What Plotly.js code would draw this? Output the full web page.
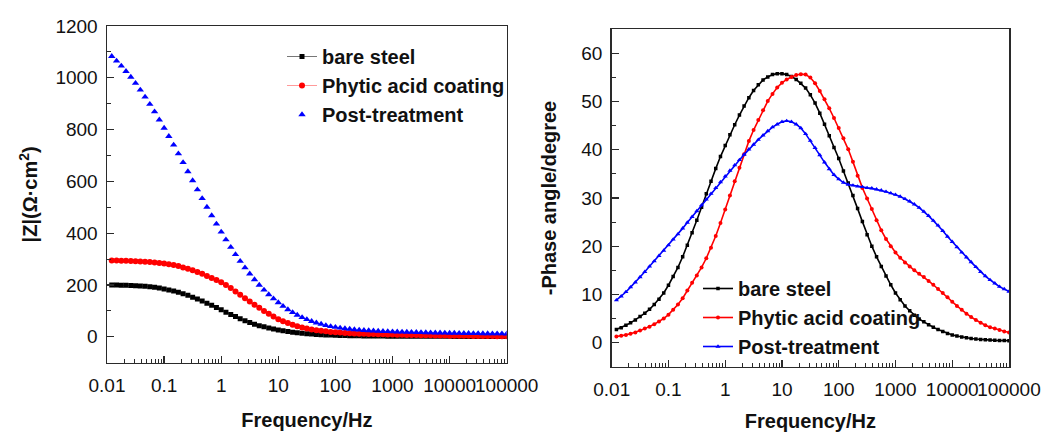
<!DOCTYPE html>
<html><head><meta charset="utf-8">
<script src="https://cdn.plot.ly/plotly-3.0.1.min.js"></script>
<style>html,body{margin:0;padding:0;background:#fff}#chart{width:1045px;height:432px}</style>
</head><body><div id="chart"></div>
<script>
const freq = [
0.0121,0.0147,0.0178,0.0215,0.0261,0.0316,0.0383,0.0464,0.0562,0.0681,0.0825,0.1,
0.121,0.147,0.178,0.215,0.261,0.316,0.383,0.464,0.562,0.681,0.825,1,
1.21,1.47,1.78,2.15,2.61,3.16,3.83,4.64,5.62,6.81,8.25,10,
12.1,14.7,17.8,21.5,26.1,31.6,38.3,46.4,56.2,68.1,82.5,100,
121,147,178,215,261,316,383,464,562,681,825,1000,
1210,1470,1780,2150,2610,3160,3830,4640,5620,6810,8250,10000,
12100,14700,17800,21500,26100,31600,38300,46400,56200,68100,82500,100000];

const seriesNames = ['bare steel', 'Phytic acid coating', 'Post-treatment'];

// |Z| (Ohm cm2)
const zBare = [
200,200,199,199,198,197,196,195,193,191,188,185,
181,177,172,166,160,153,146,138,130,122,113,104,
95,86,78,70,62,55,48,43,39,34,30,26,
23,20,17.5,15.5,13.5,12,10.5,9.3,8.3,7.4,6.6,6,
5.4,4.9,4.5,4.1,3.8,3.5,3.3,3.1,2.9,2.7,2.6,2.5,
2.4,2.3,2.2,2.1,2.0,1.95,1.9,1.85,1.8,1.75,1.7,1.65,
1.6,1.6,1.55,1.55,1.5,1.5,1.5,1.45,1.45,1.45,1.4,1.4];
const zPhytic = [
295,295,294,294,293,292,291,290,289,287,285,283,
280,277,273,268,263,257,250,243,235,227,219,211,
200,188,175,162,149,136,124,112,100,89,78,68,
60,53,47,41,36,32,28,25,23,21,19,18,
16.5,15,14,13,12,11.5,11,10.5,10,9.5,9,8.5,
8,7.6,7.2,6.8,6.5,6.2,5.9,5.6,5.3,5,4.7,4.4,
4.2,4,3.8,3.6,3.4,3.2,3,2.8,2.7,2.6,2.5,2.4];
const zPost = [
1083,1065,1046,1025,1003,979,953,926,898,869,838,806,
774,741,707,673,638,603,568,534,501,468,436,405,
375,346,318,292,267,243,221,200,181,163,147,132,
118,105,94,84,75,67,60,54,49,44,40,37,
34,32,30,28,26.5,25,24,23,22,21.2,20.5,19.8,
19.2,18.7,18.2,17.7,17.2,16.8,16.4,16,15.6,15.2,14.9,14.6,
14.3,14,13.7,13.4,13.1,12.8,12.6,12.4,12.2,12,11.8,11.6];

// -Phase angle (degree)
const phBare = [
2.7,3.1,3.6,4.1,4.7,5.4,6.1,6.9,7.9,9.0,10.3,11.9,
13.7,15.6,17.8,20.2,22.8,25.4,28.1,30.9,33.5,36.1,38.6,40.9,
43.1,45.2,47.2,49.1,50.8,52.3,53.5,54.5,55.1,55.6,55.8,55.8,
55.6,55.2,54.6,53.8,52.8,51.4,49.7,47.6,45.3,42.9,40.5,38.2,
35.6,33.1,30.5,27.8,25.1,22.4,20.0,17.8,15.8,13.8,12.0,10.3,
8.9,7.6,6.6,5.7,4.9,4.3,3.7,3.2,2.7,2.3,1.9,1.6,
1.35,1.15,1.0,0.85,0.75,0.65,0.58,0.52,0.47,0.44,0.41,0.4];
const phPhytic = [
1.25,1.4,1.6,1.85,2.1,2.5,2.9,3.3,3.8,4.4,5.0,5.8,
6.8,7.9,9.2,10.8,12.4,13.9,15.6,17.5,19.7,22.1,24.8,27.6,
30.5,33.5,36.3,39.1,41.8,44.1,46.2,48.2,50.1,51.6,52.9,53.9,
54.6,55.1,55.5,55.7,55.6,55.0,53.8,52.2,50.5,48.6,46.6,44.5,
42.4,40.1,37.5,34.6,32.1,29.9,27.7,25.4,23.3,21.5,20.0,18.7,
17.6,16.6,15.8,15.0,14.3,13.6,12.8,12.0,11.1,10.3,9.4,8.5,
7.6,6.8,6.0,5.3,4.7,4.1,3.6,3.2,2.9,2.6,2.3,2.1];
const phPost = [
8.8,9.6,10.5,11.5,12.5,13.6,14.7,15.8,16.9,18.0,19.1,20.2,
21.4,22.5,23.7,24.9,26.1,27.3,28.5,29.7,30.9,32.1,33.3,34.5,
35.7,36.8,37.9,39.0,40.1,41.1,42.1,43.0,43.9,44.7,45.3,45.8,
46.0,45.8,45.3,44.5,43.3,41.9,40.4,38.9,37.4,36.0,34.8,33.9,
33.2,32.8,32.6,32.4,32.3,32.1,32.0,31.8,31.6,31.3,31.0,30.7,
30.3,29.8,29.3,28.7,28.0,27.2,26.3,25.3,24.3,23.2,22.0,20.9,
19.8,18.7,17.7,16.7,15.7,14.7,13.8,13.0,12.3,11.6,11.1,10.6];

const freqTickVals = [0.01,0.1,1,10,100,1000,10000,100000];
const freqTickText = ['0.01','0.1','1','10','100','1000','10000','100000'];
const zTickVals = [0,200,400,600,800,1000,1200];
const phTickVals = [0,10,20,30,40,50,60];

const FONT = 'Liberation Sans, Arial, sans-serif';
const AX = '#2a2a2a';

const minorFreq = [];
for (let d = -2; d < 5; d++) for (let m = 2; m <= 9; m++) minorFreq.push(m * Math.pow(10, d));

function xAxis(domain, anchor) {
  return {
    domain: domain, anchor: anchor, type: 'log', range: [-2, 5],
    tickmode: 'array', tickvals: freqTickVals, ticktext: freqTickText, tickangle: 0,
    ticks: 'inside', ticklen: 7, tickwidth: 1.3, tickcolor: AX,
    minor: {ticks: 'inside', ticklen: 4, tickwidth: 1, tickcolor: AX, tickmode: 'array', tickvals: minorFreq, showgrid: false},
    showline: true, mirror: true, linecolor: AX, linewidth: 1.5,
    showgrid: false, zeroline: false, automargin: false,
    tickfont: {family: FONT, size: 19, color: '#111'},
    ticklabelstandoff: 5,
    title: {text: 'Frequency/Hz', font: {family: FONT, size: 20, color: '#111', weight: 'bold'}, standoff: 18}
  };
}
function yAxis(domain, anchor, range, tickvals, dminor, title, standoff) {
  return {
    domain: domain, anchor: anchor, range: range,
    tickmode: 'array', tickvals: tickvals,
    ticks: 'inside', ticklen: 7, tickwidth: 1.3, tickcolor: AX,
    minor: {ticks: 'inside', ticklen: 4, tickwidth: 1, tickcolor: AX, dtick: dminor, showgrid: false},
    showline: true, mirror: true, linecolor: AX, linewidth: 1.5,
    showgrid: false, zeroline: false, automargin: false,
    tickfont: {family: FONT, size: 19, color: '#111'},
    ticklabelstandoff: 4,
    title: {text: title, font: {family: FONT, size: 20, color: '#111', weight: 'bold'}, standoff: standoff}
  };
}

const traces = [
  {x: freq, y: zBare, name: seriesNames[0], xaxis: 'x', yaxis: 'y', mode: 'lines+markers',
   line: {color: '#777', width: 1}, marker: {symbol: 'square', size: 5, color: '#000'}, legend: 'legend', legendgroup: 'a'},
  {x: freq, y: zPhytic, name: seriesNames[1], xaxis: 'x', yaxis: 'y', mode: 'lines+markers',
   line: {color: '#ff9a9a', width: 1}, marker: {symbol: 'circle', size: 6, color: '#ff0000'}, legend: 'legend', legendgroup: 'b'},
  {x: freq, y: zPost, name: seriesNames[2], xaxis: 'x', yaxis: 'y', mode: 'markers',
   marker: {symbol: 'triangle-up', size: 6.5, color: '#0000ff'}, legend: 'legend', legendgroup: 'c'},
  {x: freq, y: phBare, name: seriesNames[0], xaxis: 'x2', yaxis: 'y2', mode: 'lines+markers',
   line: {color: '#000', width: 1.6}, marker: {symbol: 'square', size: 3.5, color: '#000'}, legend: 'legend2', legendgroup: 'd'},
  {x: freq, y: phPhytic, name: seriesNames[1], xaxis: 'x2', yaxis: 'y2', mode: 'lines+markers',
   line: {color: '#ff0000', width: 1.6}, marker: {symbol: 'circle', size: 4, color: '#ff0000'}, legend: 'legend2', legendgroup: 'e'},
  {x: freq, y: phPost, name: seriesNames[2], xaxis: 'x2', yaxis: 'y2', mode: 'lines+markers',
   line: {color: '#0000ff', width: 1.6}, marker: {symbol: 'triangle-up', size: 4.5, color: '#0000ff'}, legend: 'legend2', legendgroup: 'f'}
];

const W = 1045, H = 432;
const layout = {
  width: W, height: H, margin: {l: 0, r: 0, t: 0, b: 0},
  paper_bgcolor: '#fff', plot_bgcolor: 'rgba(0,0,0,0)',
  font: {family: FONT, color: '#111'},
  xaxis: xAxis([107 / W, 506.7 / W], 'y'),
  yaxis: yAxis([1 - 362.7 / H, 1 - 26 / H], 'x', [-100, 1200], zTickVals, 100, '|Z|(Ω·cm<sup>2</sup>)', 12),
  xaxis2: xAxis([611.7 / W, 1009 / W], 'y2'),
  yaxis2: yAxis([1 - 366.7 / H, 1 - 29.3 / H], 'x2', [-5, 65], phTickVals, 5, '-Phase angle/degree', 19),
  legend: {x: 282 / W, y: 1 - 37 / H, xanchor: 'left', yanchor: 'top', bgcolor: 'rgba(0,0,0,0)',
    font: {family: FONT, size: 20, color: '#111', weight: 'bold'}, tracegroupgap: 0, itemwidth: 30},
  legend2: {x: 698 / W, y: 1 - 269 / H, xanchor: 'left', yanchor: 'top', bgcolor: 'rgba(0,0,0,0)',
    font: {family: FONT, size: 20, color: '#111', weight: 'bold'}, tracegroupgap: 0, itemwidth: 30},
  showlegend: true
};

Plotly.newPlot('chart', traces, layout, {staticPlot: true, displayModeBar: false});
</script>
</body></html>
